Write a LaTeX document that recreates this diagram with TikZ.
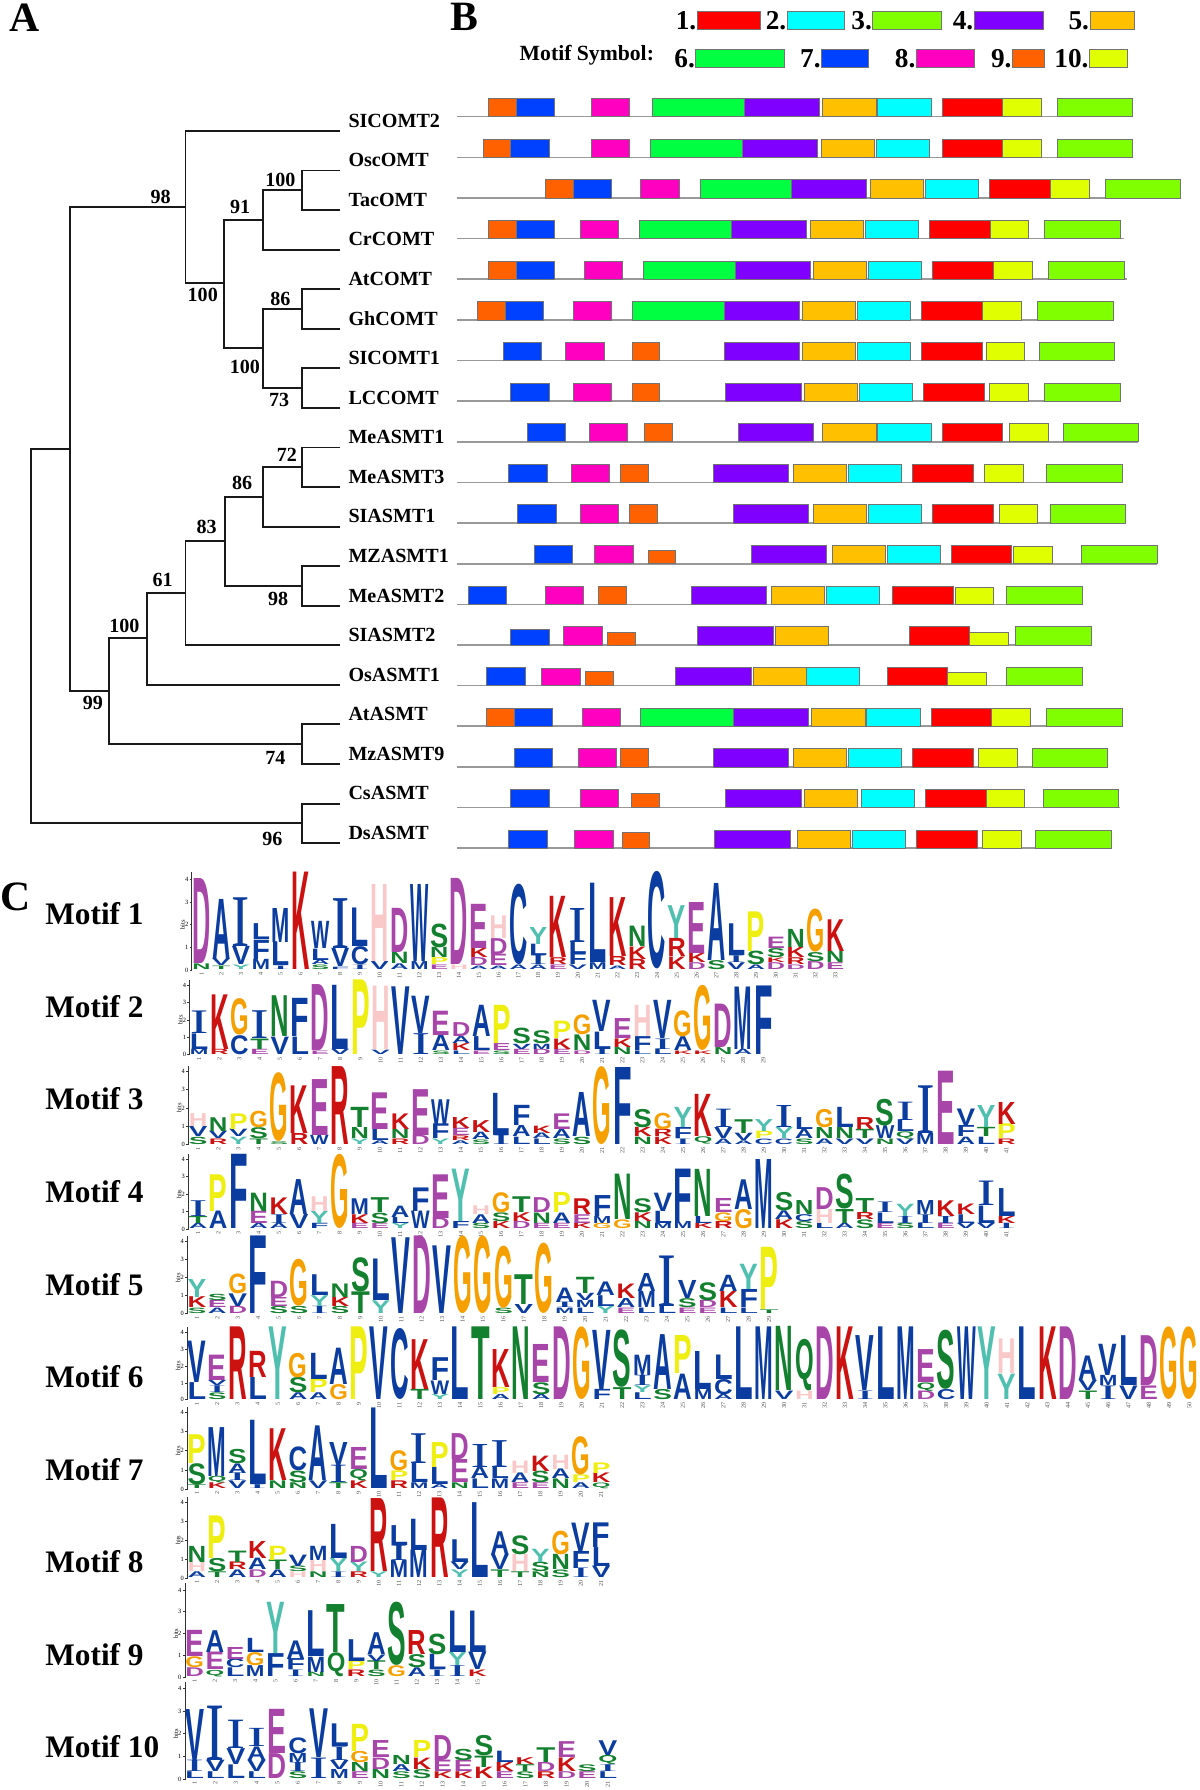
\documentclass[tikz,border=0pt]{standalone}
\usepackage{fontspec}
\usepackage{graphicx}
\setmainfont{Liberation Serif}
\newfontfamily\logofont{Liberation Sans}
\usetikzlibrary{positioning}

% motif colours
\definecolor{motif1}{HTML}{FF0000}
\definecolor{motif2}{HTML}{00FFFF}
\definecolor{motif3}{HTML}{80FF00}
\definecolor{motif4}{HTML}{8000FF}
\definecolor{motif5}{HTML}{FFC000}
\definecolor{motif6}{HTML}{00FF40}
\definecolor{motif7}{HTML}{0040FF}
\definecolor{motif8}{HTML}{FF00C0}
\definecolor{motif9}{HTML}{FF6000}
\definecolor{motif10}{HTML}{E0FF00}
% residue colours
\definecolor{aablue}{HTML}{0B3C9F}
\definecolor{aapurple}{HTML}{A845A8}
\definecolor{aared}{HTML}{CC1111}
\definecolor{aagreen}{HTML}{13802F}
\definecolor{aaorange}{HTML}{F5A000}
\definecolor{aapink}{HTML}{F9C9C9}
\definecolor{aayellow}{HTML}{EEEE10}
\definecolor{aateal}{HTML}{4FBFAF}
\colorlet{aaA}{aablue}\colorlet{aaC}{aablue}\colorlet{aaF}{aablue}\colorlet{aaI}{aablue}
\colorlet{aaL}{aablue}\colorlet{aaM}{aablue}\colorlet{aaV}{aablue}\colorlet{aaW}{aablue}
\colorlet{aaD}{aapurple}\colorlet{aaE}{aapurple}
\colorlet{aaK}{aared}\colorlet{aaR}{aared}
\colorlet{aaN}{aagreen}\colorlet{aaQ}{aagreen}\colorlet{aaS}{aagreen}\colorlet{aaT}{aagreen}
\colorlet{aaG}{aaorange}\colorlet{aaH}{aapink}\colorlet{aaP}{aayellow}\colorlet{aaY}{aateal}

% the I of a logo is drawn with serifs and a thin stem
\newcommand{\aaglyph}[1]{\if I#1{\rmfamily\mdseries I}\else #1\fi}

\tikzset{
  branch/.style={line width=1.2pt, black!90},
  taxon/.style={anchor=west, inner sep=0, font=\fontsize{12.5}{14}\selectfont\bfseries},
  boot/.style={inner sep=0, font=\fontsize{12.5}{14}\selectfont\bfseries},
  panel/.style={inner sep=0, font=\fontsize{26}{28}\selectfont\bfseries},
  keynum/.style={inner sep=0, anchor=base east, font=\fontsize{17}{18}\selectfont\bfseries},
  keytext/.style={inner sep=0, anchor=base west, font=\fontsize{13.5}{15}\selectfont\bfseries},
  motiflab/.style={inner sep=0, anchor=west, font=\fontsize{19.5}{21}\selectfont\bfseries},
  protline/.style={draw=black!40, line width=1pt},
  mbox/.style={draw=black!55, line width=0.4pt},
  logoaxis/.style={draw=black!80, line width=0.5pt},
  ticklab/.style={inner sep=0.5pt, anchor=east, font=\fontsize{4}{4}\selectfont},
  colnum/.style={inner sep=0.3pt, anchor=east, rotate=90, text=black!70, font=\fontsize{3.8}{4}\selectfont},
  aaletter/.style={inner sep=0, outer sep=0, anchor=south, font=\logofont\bfseries}
}

% one protein of panel B: row, end of line, boxes start/end/motif/height
\newcommand{\motifrow}[3]{%
  \pgfmathsetmacro\ry{102.2+35.6*#1}
  \draw[protline] (15,\ry) -- (#2,\ry);
  \foreach \a/\b/\m/\hh in {#3}
    \draw[mbox, fill=motif\m] (\a,\ry) rectangle (\b,{\ry-\hh});
}

% sequence logo: base y, one bit, axis x, column width, columns (bottom to top)
\newcommand{\seqlogo}[5]{%
  \pgfmathsetlengthmacro\lw{#4*0.92*0.025cm}
  \draw[logoaxis] (#3,{#1+0.5}) -- (#3,{#1-4.3*#2});
  \foreach \t in {0,...,4}
    \draw[logoaxis] (#3,{#1-\t*#2}) -- ++(-2,0) node[ticklab]{\t};
  \node[rotate=90, inner sep=0, font=\fontsize{4}{4}\selectfont] at ({#3-8},{#1-2*#2}) {bits};
  \foreach \col [count=\i] in {#5} {
    \pgfmathsetmacro\cx{#3+8.5+(\i-1)*#4}
    \node[colnum] at (\cx,{#1+1.5}) {\i};
    \xdef\lbase{0.03}
    \foreach \l/\h [count=\j] in \col {
      \pgfmathsetmacro\lby{#1-\lbase*#2}
      \pgfmathsetlengthmacro\lhh{\h*#2*0.025cm}
      \node[aaletter, text=aa\l] (lg\i-\j) at (\cx,\lby) {\resizebox*{\lw}{\lhh}{\aaglyph{\l}}};
      \pgfmathsetmacro\nb{\lbase+\h}
      \xdef\lbase{\nb}
    }
  }
}

\begin{document}
\begin{tikzpicture}[x=0.025cm, y=-0.025cm]
\useasboundingbox (0,0) rectangle (1051,1568);

\node[panel] (pA) at (21.5,15.5) {A};
\node[panel] (pB) at (406.6,14.6) {B};
\node[panel] (pC) at (13.5,786) {C};

% tree
\foreach \n [count=\i from 0] in {SICOMT2,OscOMT,TacOMT,CrCOMT,AtCOMT,GhCOMT,SICOMT1,LCCOMT,MeASMT1,MeASMT3,SIASMT1,MZASMT1,MeASMT2,SIASMT2,OsASMT1,AtASMT,MzASMT9,CsASMT,DsASMT} {
  \coordinate (t\i) at (297.6,{114.7+34.66*\i});
  \node[taxon] (\n) at (305,{105.7+34.66*\i}) {\n};
}
\coordinate (root) at (26.8,557);
\coordinate (nTop) at (61.3,393.5);
\coordinate (nCs) at (264.7,721.1);
\coordinate (nCOMT) at (162.5,181.6);
\coordinate (n99) at (95.5,605.2);
\coordinate (n100a) at (196,248.2);
\coordinate (n91) at (230.2,192.7);
\coordinate (n100c) at (264.7,166.4);
\coordinate (n100b) at (230.2,305.1);
\coordinate (n86a) at (264.7,270.7);
\coordinate (n73) at (264.7,340.1);
\coordinate (n100d) at (129,559.1);
\coordinate (n74) at (264.7,651.9);
\coordinate (n61) at (162.5,519.1);
\coordinate (n83) at (196.7,473.8);
\coordinate (n86b) at (230.2,435);
\coordinate (n98) at (264.7,513);
\coordinate (n72) at (264.7,409.3);

\foreach \p/\c in {root/nTop, root/nCs, nTop/nCOMT, nTop/n99, nCOMT/t0, nCOMT/n100a,
    n100a/n91, n100a/n100b, n91/n100c, n91/t3, n100c/t1, n100c/t2, n100b/n86a, n100b/n73,
    n86a/t4, n86a/t5, n73/t6, n73/t7, n99/n100d, n99/n74, n100d/n61, n100d/t14,
    n61/n83, n61/t13, n83/n86b, n83/n98, n86b/n72, n86b/t10, n72/t8, n72/t9,
    n98/t11, n98/t12, n74/t15, n74/t16, nCs/t17, nCs/t18}
  \draw[branch] (\p) |- (\c);

\foreach \v/\x/\y [count=\k] in {98/140.7/172.3, 100/177.6/258.4, 91/210.4/181, 100/245.6/157.7,
    100/214.5/321.2, 86/245.6/261.9, 73/244.6/350.4, 99/81.4/616, 100/108.9/548.3,
    61/142.4/508, 83/181/461.2, 86/212.1/422.7, 72/251.3/398.5, 98/243.6/524.9,
    74/241.3/664.2, 96/238.6/735.1}
  \node[boot] (bs\k) at (\x,\y) {\v};

% legend
\node[keytext] (ksym) at (455,52.6) {Motif Symbol:};
\foreach \m/\a/\b/\y in {1/610.7/665.6/25.7, 2/689.5/739.4/25.7, 3/764.5/824.8/25.7,
    4/853.3/913.7/25.7, 5/954.7/993.3/25.7, 6/609.5/687.4/59.3, 7/719.7/760.7/59.3,
    8/802.6/853.3/59.3, 9/886.8/914.5/59.3, 10/954.3/987.8/59.3} {
  \draw[mbox, fill=motif\m] (\a,\y) rectangle (\b,{\y-15.8});
  \node[keynum] (k\m) at ({\a-0.5},\y) {\m.};
}

% motif structure of each protein
\begin{scope}[shift={(394.1,0)}, x=0.010475cm]
\motifrow{0}{1428}{80/138/9/16, 138/219/7/16, 296/376/8/16, 423/615/6/16, 615/772/4/16, 779/891/5/16, 895/1006/2/16, 1030/1156/1/16, 1156/1237/10/16, 1271/1428/3/16}
\motifrow{1}{1428}{69/126/9/16, 126/207/7/16, 296/376/8/16, 419/611/6/16, 611/768/4/16, 776/888/5/16, 891/1003/2/16, 1030/1156/1/16, 1156/1237/10/16, 1271/1428/3/16}
\motifrow{2}{1528}{200/258/9/16, 258/338/7/16, 399/480/8/16, 523/715/6/16, 715/872/4/16, 879/991/5/16, 995/1106/2/16, 1129/1256/1/16, 1256/1337/10/16, 1371/1528/3/16}
\motifrow{3}{1410}{80/138/9/16, 138/219/7/16, 273/353/8/16, 396/588/6/16, 588/745/4/16, 753/865/5/16, 868/979/2/16, 1002/1130/1/16, 1130/1210/10/16, 1244/1402/3/16}
\motifrow{4}{1417}{80/138/9/16, 138/219/7/16, 281/361/8/16, 404/596/6/16, 596/753/4/16, 760/872/5/16, 876/987/2/16, 1010/1137/1/16, 1137/1218/10/16, 1252/1410/3/16}
\motifrow{5}{1387}{57/115/9/16, 115/196/7/16, 258/338/8/16, 381/573/6/16, 573/730/4/16, 737/849/5/16, 853/964/2/16, 987/1114/1/16, 1114/1195/10/16, 1229/1387/3/16}
\motifrow{6}{1390}{111/192/7/16, 242/323/8/16, 381/438/9/16, 573/730/4/16, 737/849/5/16, 853/964/2/16, 987/1114/1/16, 1122/1202/10/16, 1233/1390/3/16}
\motifrow{7}{1402}{126/207/7/16, 258/338/8/16, 381/438/9/16, 576/734/4/16, 741/853/5/16, 857/968/2/16, 991/1118/1/16, 1129/1210/10/16, 1244/1402/3/16}
\motifrow{8}{1440}{161/242/7/16, 292/372/8/16, 407/465/9/16, 603/760/4/16, 779/891/5/16, 895/1006/2/16, 1030/1156/1/16, 1171/1252/10/16, 1283/1440/3/16}
\motifrow{9}{1406}{122/203/7/16, 254/334/8/16, 357/415/9/16, 550/707/4/16, 718/830/5/16, 833/945/2/16, 968/1095/1/16, 1118/1199/10/16, 1248/1406/3/16}
\motifrow{10}{1413}{142/223/7/16, 273/353/8/16, 376/434/9/16, 592/749/4/16, 760/872/5/16, 876/987/2/16, 1010/1137/1/16, 1149/1229/10/16, 1256/1413/3/16}
\motifrow{11}{1479}{176/257/7/16, 303/384/8/16, 415/472/9/12, 630/787/4/16, 799/911/5/16, 914/1026/2/16, 1048/1175/1/16, 1179/1260/10/14.9, 1321/1479/3/16}
\motifrow{12}{1322}{38/119/7/16, 200/280/8/16, 311/369/9/16, 504/661/4/16, 672/784/5/16, 787/899/2/16, 926/1053/1/16, 1057/1137/10/14.6, 1164/1322/3/16}
\motifrow{13}{1341}{126/207/7/13.7, 238/319/8/16, 330/388/9/10.8, 518/676/4/16, 680/791/5/16, 960/1087/1/16, 1087/1168/10/10.8, 1183/1341/3/16}
\motifrow{14}{1322}{76/157/7/16, 192/273/8/14.9, 284/342/9/12.3, 472/630/4/16, 634/745/5/16, 745/857/2/16, 915/1041/1/16, 1041/1122/10/12, 1164/1322/3/16}
\motifrow{15}{1406}{76/134/9/16, 134/215/7/16, 277/357/8/16, 399/592/6/16, 592/749/4/16, 757/869/5/16, 872/984/2/16, 1006/1133/1/16, 1133/1214/10/16, 1248/1406/3/16}
\motifrow{16}{1375}{134/215/7/16, 269/349/8/16, 357/415/9/16, 550/707/4/16, 718/830/5/16, 833/945/2/16, 968/1095/1/16, 1106/1187/10/16, 1218/1375/3/16}
\motifrow{17}{1402}{126/207/7/16, 273/353/8/16, 380/438/9/12.6, 576/734/4/16, 741/853/5/16, 860/972/2/16, 995/1122/1/16, 1122/1202/10/16, 1241/1398/3/16}
\motifrow{18}{1383}{122/203/7/16, 261/342/8/16, 361/418/9/14, 553/711/4/16, 726/838/5/16, 841/953/2/16, 976/1103/1/16, 1114/1195/10/16, 1225/1383/3/16}
\end{scope}

% sequence logos
\foreach \k in {1,...,10}
  \node[motiflab] (ml\k) at (39.5,{800.5+81.1*(\k-1)}) {Motif \k};

\seqlogo{849.6}{19.85}{168}{17.35}{
 {N/0.25,D/3.75},{T/0.15,V/0.3,A/2.65},{Y/0.2,V/0.8,I/2.15},{M/0.45,F/0.85,L/0.7},
 {I/0.15,L/1.05,M/1.5},{K/4.3},{S/0.2,A/0.2,L/0.5,W/1.2},{F/0.1,V/0.8,I/2.2},
 {I/0.2,C/0.8,L/1.7},{V/0.35,H/3.4},{A/0.25,N/0.5,D/1.95},{M/0.35,W/3.4},
 {E/0.2,P/0.3,N/0.45,S/1.05},{H/0.2,D/3.8},{A/0.15,D/0.35,K/0.4,E/1.95},
 {A/0.15,E/0.5,D/0.7,H/1.0},{A/0.2,C/3.55},{A/0.2,I/0.4,L/0.5,Y/0.75},
 {E/0.2,R/0.3,K/2.7},{V/0.2,F/0.5,L/0.5,I/1.5},{M/0.3,L/3.5},{A/0.15,R/0.4,K/2.6},
 {R/0.45,K/0.55,N/0.9},{C/4.3},{K/0.55,R/0.8,Y/1.45},{D/0.3,K/0.4,E/2.25},
 {S/0.4,A/3.4},{V/0.3,I/0.3,L/1.4},{A/0.2,S/0.6,P/1.75},{D/0.3,K/0.2,S/0.4,E/0.5},
 {D/0.2,R/0.3,K/0.45,N/0.8},{D/0.35,S/0.4,G/1.9},{E/0.3,N/0.5,K/1.4}}

\seqlogo{924.0}{15.2}{166}{17.65}{
 {M/0.3,L/0.9,I/1.3},{R/0.3,K/3.15},{C/1.1,G/2.1},{E/0.3,T/0.6,I/1.6},{V/1.0,N/2.35},
 {L/1.0,F/2.2},{E/0.2,D/3.8},{V/0.3,L/3.7},{P/4.3},{V/0.25,H/3.65},{V/3.9},
 {I/1.2,V/2.15},{S/0.2,A/0.9,E/1.4},{L/0.2,K/0.4,A/0.4,D/0.8},{E/0.2,L/0.8,A/1.8},
 {S/0.2,E/0.4,P/2.2},{E/0.3,V/0.3,S/0.9},{D/0.3,M/0.3,S/0.75},{E/0.3,K/0.6,P/1.0},
 {D/0.2,N/0.9,G/1.15},{I/0.3,L/1.0,V/1.8},{N/0.4,K/0.5,E/1.15},{L/0.2,F/0.8,H/1.8},
 {L/0.3,I/0.6,V/2.2},{K/0.2,A/0.8,G/1.5},{K/0.2,G/3.75},{N/0.4,D/2.5},{A/0.3,M/3.6},
 {F/3.95}}

\seqlogo{1002.8}{16.06}{165}{17.7}{
 {S/0.4,V/0.55,H/0.7},{R/0.3,V/0.4,N/0.75},{Y/0.4,V/0.4,P/0.85},{T/0.3,S/0.6,G/0.9},
 {S/0.15,G/3.75},{R/0.6,K/2.6},{W/0.5,E/3.05},{R/4.25},{Y/0.3,N/0.6,T/1.1},
 {A/0.2,L/0.6,E/2.0},{R/0.3,N/0.5,K/0.85},{D/0.5,E/2.5},{Y/0.3,F/0.8,W/1.35},
 {A/0.2,R/0.25,E/0.4,K/0.6},{S/0.25,A/0.4,K/0.65},{I/0.5,L/2.3},{L/0.4,A/0.6,F/1.1},
 {L/0.3,A/0.3,K/0.4},{S/0.3,A/0.5,E/0.85},{S/0.4,A/2.4},{G/4.25},{F/4.2},
 {N/0.4,K/0.5,S/1.0},{K/0.4,R/0.4,G/0.9},{I/0.3,F/0.6,Y/1.1},{Q/0.4,K/2.3},
 {A/0.3,V/0.6,I/1.0},{A/0.2,V/0.4,T/0.75},{C/0.3,P/0.4,Y/0.65},{C/0.3,Y/0.6,I/1.2},
 {S/0.3,A/0.5,L/0.65},{A/0.3,N/0.6,G/1.0},{V/0.3,N/0.6,L/1.1},{V/0.3,T/0.5,R/0.65},
 {N/0.3,W/0.7,S/1.45},{V/0.3,Q/0.4,L/0.6,I/1.0},{M/0.6,I/2.6},{E/4.0},
 {A/0.4,F/0.6,V/0.9},{L/0.4,T/0.5,Y/1.2},{R/0.3,P/0.8,K/1.2}}

\seqlogo{1076.7}{15.3}{165}{17.7}{
 {A/0.3,T/0.4,I/0.9},{A/1.0,P/2.1},{F/4.25},{A/0.3,E/0.7,N/1.05},{A/0.3,I/0.5,K/0.95},
 {V/0.8,A/2.0},{F/0.3,Y/0.7,H/0.85},{G/4.25},{E/0.3,K/0.5,M/0.9},{E/0.3,S/0.6,T/0.85},
 {Y/0.3,L/0.35,A/0.65},{W/1.0,F/1.35},{D/0.6,E/2.5},{F/0.4,Y/3.0},{S/0.3,A/0.5,H/0.5},
 {K/0.4,S/0.5,G/1.15},{D/0.4,K/0.5,T/0.9},{E/0.3,N/0.6,D/0.85},{E/0.3,A/0.6,P/1.15},
 {K/0.3,E/0.5,R/0.9},{G/0.3,M/0.4,F/1.2},{G/0.5,N/2.6},{N/0.4,K/0.5,S/0.8},
 {M/0.3,L/0.7,V/1.05},{M/0.4,F/3.0},{K/0.3,L/0.4,N/2.7},{R/0.4,G/0.5,E/0.8},
 {G/1.1,A/1.7},{M/3.95},{K/0.5,A/0.5,S/1.05},{S/0.4,C/0.4,N/0.8},{L/0.3,H/0.8,D/1.25},
 {A/0.3,T/0.8,S/2.0},{S/0.5,R/0.4,T/0.8},{E/0.3,L/0.6,I/0.6},{S/0.3,I/0.4,Y/0.7},
 {L/0.3,I/0.5,M/0.8},{E/0.3,I/0.4,K/0.9},{V/0.3,L/0.5,K/0.6},{V/0.3,L/1.0,I/1.4},
 {I/0.3,K/0.4,L/1.6}}

\seqlogo{1150.9}{15.8}{164}{17.9}{
 {S/0.3,K/0.6,Y/1.0},{A/0.3,E/0.4,S/0.35},{D/0.4,V/0.7,G/1.1},{F/4.3},{S/0.4,E/0.5,D/0.9},
 {S/0.4,G/2.6},{I/0.4,Y/0.6,L/1.15},{S/0.4,K/0.5,N/0.75},{T/1.2,S/1.9},{Y/0.7,L/2.3},
 {V/4.2},{D/4.3},{V/3.75},{G/4.3},{G/4.3},{S/0.3,G/3.45},{V/0.5,T/1.65},{G/3.9},
 {M/0.3,I/0.3,A/0.8},{L/0.3,M/0.4,V/0.4,T/0.9},{Y/0.4,L/0.6,A/0.75},{E/0.3,A/0.5,K/0.8},
 {L/0.3,M/0.9,A/1.0},{L/0.4,I/2.8},{E/0.3,S/0.5,V/1.0},{E/0.3,D/0.4,S/1.0},
 {L/0.3,K/0.9,A/0.9},{L/0.3,F/1.0,Y/1.4},{T/0.2,P/3.45}}

\seqlogo{1226.2}{14.8}{164}{17.74}{
 {L/1.0,V/2.45},{S/0.4,I/0.4,V/0.3,E/1.5},{R/4.3},{L/1.3,R/1.55},{Y/4.3},
 {A/0.4,S/0.9,G/1.45},{A/0.4,P/0.8,L/1.55},{G/0.9,A/2.15},{P/4.3},{V/4.3},{C/4.2},
 {T/0.6,K/2.95},{Y/0.3,W/0.8,F/1.35},{L/4.3},{T/4.3},{A/0.3,P/0.4,K/2.25},{N/4.3},
 {A/0.3,S/0.7,E/2.25},{D/4.3},{G/4.3},{F/0.6,V/3.5},{T/0.7,S/3.4},
 {L/0.4,Y/0.4,I/0.6,M/1.2},{S/0.6,A/3.25},{A/1.5,P/2.25},{M/0.6,L/2.25},
 {A/0.3,C/0.9,L/1.45},{L/4.3},{M/4.3},{V/0.5,N/3.8},{H/0.5,Q/3.05},{D/4.3},{K/4.3},
 {I/0.5,V/3.25},{L/4.3},{M/4.3},{D/0.5,Q/0.5,E/1.95},{C/0.6,S/3.5},{W/4.3},{Y/4.3},
 {Y/1.5,H/2.05},{L/4.3},{K/4.3},{D/4.3},{T/0.5,V/0.6,A/1.45},{I/0.8,M/0.6,V/1.85},
 {V/0.8,L/2.95},{E/0.8,D/2.95},{G/4.3},{G/4.3}}

\seqlogo{1304.4}{16.8}{164}{17.7}{
 {T/0.2,S/1.1,P/1.5},{K/0.3,Q/0.35,M/2.55},{V/0.4,I/0.4,A/0.5,S/0.75},{I/0.2,L/3.35},
 {N/0.4,K/2.7},{N/0.3,S/0.6,C/1.25},{V/0.4,A/2.85},{T/0.3,I/0.9,V/1.2},
 {K/0.4,Q/0.6,E/1.15},{L/4.2},{R/0.4,P/0.5,G/1.05},{M/0.3,L/1.0,I/1.55},
 {A/0.2,L/0.9,P/1.3},{N/0.3,E/1.2,D/1.35},{L/0.5,A/0.6,I/1.2},{M/0.5,L/0.6,I/1.4},
 {E/0.3,A/0.5,H/0.65},{E/0.3,S/0.6,K/0.8},{N/0.5,A/0.5,H/0.75},{A/0.3,P/0.4,G/2.0},
 {Q/0.3,K/0.5,P/0.55}}

\seqlogo{1382.4}{16.6}{164}{17.7}{
 {A/0.3,H/0.5,N/0.85},{T/0.3,S/0.7,P/2.25},{A/0.4,R/0.4,T/0.6},{D/0.4,A/0.6,K/0.9},
 {A/0.4,T/0.5,P/0.75},{H/0.3,S/0.3,V/0.6},{N/0.3,H/0.6,M/0.75},{I/0.3,Y/0.7,L/1.8},
 {R/0.3,Y/0.5,D/0.85},{Y/0.3,R/3.85},{M/0.9,I/0.8,L/1.05},{M/1.45,L/1.65},{R/4.2},
 {Y/0.4,V/0.4,L/1.2},{L/3.95},{T/0.4,V/0.8,A/1.2},{T/0.3,H/0.9,S/1.0},
 {N/0.3,S/0.5,Y/0.7},{S/0.4,N/0.8,G/1.25},{I/0.5,F/0.9,V/1.5},{V/0.6,L/1.0,F/1.3}}

\seqlogo{1469.1}{19.1}{162}{17.7}{
 {D/0.4,G/0.5,E/1.2},{Q/0.3,E/0.8,A/1.0},{L/0.4,C/0.4,E/0.55},{M/0.5,G/0.6,L/0.65},
 {F/1.05,Y/2.35},{I/0.3,F/0.5,A/0.85},{N/0.2,M/0.7,L/2.1},{Q/1.1,T/2.2},
 {R/0.3,P/0.4,L/1.0},{S/0.3,T/0.4,V/0.3,A/1.0},{G/0.5,S/2.9},{A/0.4,S/0.6,R/1.1},
 {I/0.3,L/0.7,S/0.95},{I/0.5,Y/0.6,L/1.9},{K/0.3,V/0.8,L/1.9}}

\seqlogo{1558.4}{19.85}{162}{18.1}{
 {L/0.3,I/0.5,V/2.25},{L/0.3,V/0.5,I/2.4},{L/0.6,V/0.7,I/1.25},{L/0.3,V/0.5,A/0.6,I/0.8},
 {D/1.1,E/1.95},{S/0.3,I/0.4,M/0.4,C/0.7},{I/0.9,V/2.15},{M/0.4,V/0.4,I/0.6,L/1.0},
 {E/0.3,N/0.4,G/0.5,P/1.2},{N/0.4,D/0.5,E/0.75},{S/0.3,A/0.3,N/0.4},{S/0.4,K/0.5,P/0.75},
 {K/0.3,E/0.5,D/1.1},{K/0.3,E/0.5,S/0.5},{K/0.5,T/0.5,S/0.9},{E/0.3,K/0.4,L/0.5},
 {S/0.3,T/0.3,K/0.3},{R/0.3,D/0.4,T/0.65},{D/0.3,K/0.6,E/0.7},{E/0.3,S/0.3},
 {L/0.3,I/0.3,Q/0.4,V/0.65}}

\end{tikzpicture}
\end{document}
